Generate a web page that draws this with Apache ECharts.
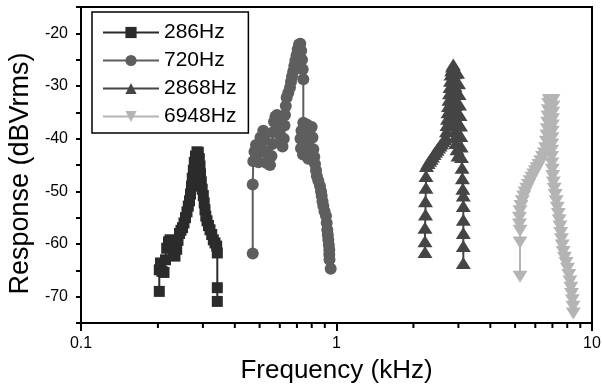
<!DOCTYPE html>
<html>
<head>
<meta charset="utf-8">
<script src="https://cdn.jsdelivr.net/npm/echarts@6/dist/echarts.min.js"></script>
<style>
html, body { margin: 0; padding: 0; background: #fff; }
#chart { width: 602px; height: 388px; }
</style>
</head>
<body>
<div id="chart"></div>
<script>
// frequency in kHz, response in dBVrms
const f286 = [0.2025, 0.2025, 0.2047, 0.2075, 0.2113, 0.2141, 0.2165, 0.2200, 0.2230, 0.2265, 0.2297, 0.2333, 0.2369, 0.2397, 0.2429, 0.2462, 0.2496, 0.2530, 0.2564, 0.2599, 0.2630, 0.2659, 0.2683, 0.2707, 0.2726, 0.2752, 0.2776, 0.2806, 0.2844, 0.2878, 0.2905, 0.2923, 0.2936, 0.2957, 0.2981, 0.3011, 0.3035, 0.3057, 0.3079, 0.3113, 0.3155, 0.3198, 0.3248, 0.3295, 0.3346, 0.3397, 0.3416, 0.3416, 0.3416]
const r286 = [-69.0, -64.9, -63.6, -65.2, -65.4, -63.0, -60.8, -59.6, -59.2, -59.8, -61.5, -62.3, -61.0, -59.3, -58.0, -57.4, -56.9, -56.0, -55.0, -53.9, -52.8, -51.8, -50.5, -49.0, -47.5, -46.0, -44.5, -43.3, -42.5, -42.6, -43.8, -45.2, -46.7, -48.2, -49.6, -50.8, -52.2, -53.5, -54.7, -55.6, -56.5, -57.3, -58.2, -59.2, -59.8, -60.4, -61.7, -68.3, -70.9]

const f720 = [0.470, 0.470, 0.4725, 0.4775, 0.4840, 0.4906, 0.4950, 0.4995, 0.5041, 0.5109, 0.5169, 0.5225, 0.5274, 0.5331, 0.5409, 0.5492, 0.5567, 0.5607, 0.5642, 0.5693, 0.5771, 0.5849, 0.5918, 0.5983, 0.6064, 0.6147, 0.6219, 0.6258, 0.6286, 0.6332, 0.6383, 0.6476, 0.6577, 0.6636, 0.6696, 0.6775, 0.6836, 0.6899, 0.6974, 0.7050, 0.7133, 0.7216, 0.7275, 0.7328, 0.7374, 0.7415, 0.7415, 0.7295, 0.7229, 0.7262, 0.7394, 0.7529, 0.7645, 0.7771, 0.7806, 0.7757, 0.7911, 0.7997, 0.8055, 0.8113, 0.8187, 0.8238, 0.8314, 0.8374, 0.8488, 0.8619, 0.8697, 0.8751, 0.8815, 0.8879, 0.8976, 0.9098, 0.9155, 0.9204, 0.9246, 0.9288, 0.9330, 0.9371, 0.9371, 0.9388, 0.9491]
const r720 = [-61.8, -48.7, -44.3, -42.5, -41.2, -42.8, -44.5, -42.0, -39.8, -40.5, -38.5, -40.2, -42.5, -44.6, -43.5, -45.0, -43.3, -41.0, -38.8, -36.8, -35.8, -35.5, -37.3, -38.8, -40.0, -41.5, -40.0, -37.5, -35.5, -33.8, -32.2, -31.3, -30.3, -29.2, -28.2, -27.2, -26.2, -25.2, -24.2, -23.0, -22.1, -22.0, -23.3, -25.0, -26.8, -28.7, -37.0, -38.5, -40.0, -41.8, -43.0, -41.0, -37.3, -38.5, -42.0, -43.8, -40.0, -37.8, -39.8, -42.0, -43.5, -44.8, -46.0, -47.1, -48.0, -49.0, -50.0, -50.9, -51.9, -52.8, -53.8, -54.7, -56.0, -57.3, -58.3, -59.2, -60.2, -61.1, -62.0, -63.0, -64.7]

const f2868 = [2.220, 2.220, 2.220, 2.230, 2.230, 2.240, 2.240, 2.250, 2.281, 2.313, 2.344, 2.376, 2.408, 2.441, 2.474, 2.508, 2.542, 2.577, 2.612, 2.647, 2.683, 2.695, 2.707, 2.719, 2.732, 2.744, 2.756, 2.769, 2.781, 2.794, 2.806, 2.824, 2.845, 2.866, 2.884, 2.897, 2.910, 2.910, 2.910, 2.910, 2.910, 2.910, 2.910, 2.910, 2.910, 2.923, 2.936, 2.963, 2.989, 2.976, 3.003, 3.017, 3.030, 3.044, 3.058, 3.066, 3.077, 3.085, 3.099, 3.110, 3.122, 3.136, 3.136, 3.136, 3.136, 3.136, 3.136]
const r2868 = [-61.5, -59.5, -56.9, -54.4, -51.9, -49.3, -47.1, -45.2, -44.6, -44.2, -43.8, -43.4, -42.9, -42.5, -42.1, -41.7, -41.3, -40.9, -40.5, -40.1, -39.8, -38.6, -37.4, -36.2, -35.0, -33.8, -32.6, -31.4, -30.2, -29.0, -27.8, -27.0, -26.3, -25.9, -26.8, -27.6, -28.8, -30.0, -31.2, -32.4, -33.6, -34.8, -36.0, -37.2, -38.4, -39.6, -40.8, -42.0, -43.2, -27.5, -29.5, -31.5, -33.5, -35.5, -37.5, -39.5, -41.5, -43.5, -45.5, -47.5, -49.5, -50.8, -52.8, -55.4, -57.9, -60.4, -63.6]

const f6948 = [5.227, 5.227, 5.227, 5.203, 5.203, 5.227, 5.274, 5.335, 5.404, 5.477, 5.557, 5.642, 5.729, 5.824, 5.918, 6.010, 6.102, 6.201, 6.304, 6.401, 6.517, 6.583, 6.631, 6.661, 6.685, 6.709, 6.727, 6.745, 6.770, 6.806, 6.880, 6.954, 7.037, 7.037, 7.024, 7.012, 6.998, 6.986, 6.973, 6.960, 6.948, 6.948, 6.960, 6.986, 7.017, 7.055, 7.114, 7.178, 7.243, 7.315, 7.381, 7.440, 7.495, 7.542, 7.589, 7.645, 7.713, 7.804, 7.910, 8.018, 8.112, 8.194, 8.260, 8.319, 8.374, 8.424, 8.448]
const r6948 = [-66.2, -59.7, -57.5, -56.3, -55.0, -53.8, -52.8, -51.9, -51.0, -50.2, -49.5, -48.8, -48.1, -47.4, -46.8, -46.2, -45.6, -45.0, -44.3, -43.5, -42.8, -41.8, -40.6, -39.4, -38.2, -37.0, -35.8, -34.6, -33.4, -32.7, -32.7, -32.7, -32.7, -33.9, -35.1, -36.3, -37.5, -38.7, -39.9, -41.1, -42.3, -43.5, -44.7, -45.9, -47.1, -48.3, -49.5, -50.7, -51.9, -53.1, -54.3, -55.5, -56.7, -57.9, -59.1, -60.3, -61.5, -62.6, -63.6, -64.7, -65.9, -67.1, -68.3, -69.5, -70.7, -71.9, -73.2]

const names = ['286Hz', '720Hz', '2868Hz', '6948Hz']
const minorTicks = [0.2, 0.3, 0.4, 0.5, 0.6, 0.7, 0.8, 0.9, 2, 3, 4, 5, 6, 7, 8, 9]
const yMin = -75
const yMax = -15

const font = 'Liberation Sans, Arial, sans-serif'

function pairs (f, r) {
  return f.map((v, i) => [v, r[i]])
}

function lineSeries (name, f, r, color, symbol, size, rotate) {
  return {
    name: name,
    type: 'line',
    data: pairs(f, r),
    symbol: symbol,
    symbolSize: size,
    symbolRotate: rotate,
    lineStyle: { color: color, width: 2 },
    itemStyle: { color: color, borderWidth: 0 },
    emphasis: { disabled: true }
  }
}

let chart = echarts.init(document.getElementById('chart'), null, { renderer: 'canvas' })
chart.setOption({
  animation: false,
  textStyle: { fontFamily: font },
  grid: {
    left: 81, right: 10, top: 7, bottom: 65,
    show: true, borderColor: '#000', borderWidth: 2,
    outerBoundsMode: 'none'
  },
  legend: {
    data: names,
    orient: 'vertical',
    left: 92,
    top: 12,
    itemWidth: 56,
    itemHeight: 14,
    itemGap: 7,
    padding: [10, 12, 6, 10],
    borderColor: '#000',
    borderWidth: 1.5,
    textStyle: { fontSize: 21, color: '#000', fontFamily: font }
  },
  xAxis: {
    type: 'log',
    logBase: 10,
    min: 0.1,
    max: 10,
    name: 'Frequency (kHz)',
    nameLocation: 'middle',
    nameGap: 35,
    nameTextStyle: { fontSize: 26, color: '#000', fontFamily: font },
    axisLine: { lineStyle: { color: '#000', width: 2 } },
    axisTick: { length: 8, lineStyle: { color: '#000', width: 2 } },
    axisLabel: { fontSize: 16, color: '#000', margin: 13, formatter: v => String(v) },
    splitLine: { show: false }
  },
  yAxis: {
    type: 'value',
    min: yMin,
    max: yMax,
    interval: 5,
    name: 'Response (dBVrms)',
    nameLocation: 'middle',
    nameGap: 47,
    nameTextStyle: { fontSize: 27, color: '#000', fontFamily: font, padding: [0, 17, 0, 0] },
    axisLine: { lineStyle: { color: '#000', width: 2 } },
    axisTick: { length: 5, lineStyle: { color: '#000', width: 2 } },
    axisLabel: { fontSize: 16, color: '#000', margin: 13, formatter: v => (v % 10 === 0 ? String(v) : '') },
    splitLine: { show: false }
  },
  series: [
    lineSeries('286Hz', f286, r286, '#2b2b2b', 'rect', 11, 0),
    lineSeries('720Hz', f720, r720, '#5e5e5e', 'circle', 12, 0),
    lineSeries('2868Hz', f2868, r2868, '#454545', 'triangle', [15, 12], 0),
    lineSeries('6948Hz', f6948, r6948, '#b4b4b4', 'triangle', [15, 12], 180),
    {
      // minor log ticks on the frequency axis
      type: 'custom',
      silent: true,
      clip: false,
      data: minorTicks.map(v => [v, yMin]),
      renderItem: function (params, api) {
        let p = api.coord([api.value(0), api.value(1)])
        return {
          type: 'line',
          shape: { x1: p[0], y1: p[1], x2: p[0], y2: p[1] + 5 },
          style: { stroke: '#000', lineWidth: 2 }
        }
      }
    }
  ]
})
</script>
</body>
</html>
